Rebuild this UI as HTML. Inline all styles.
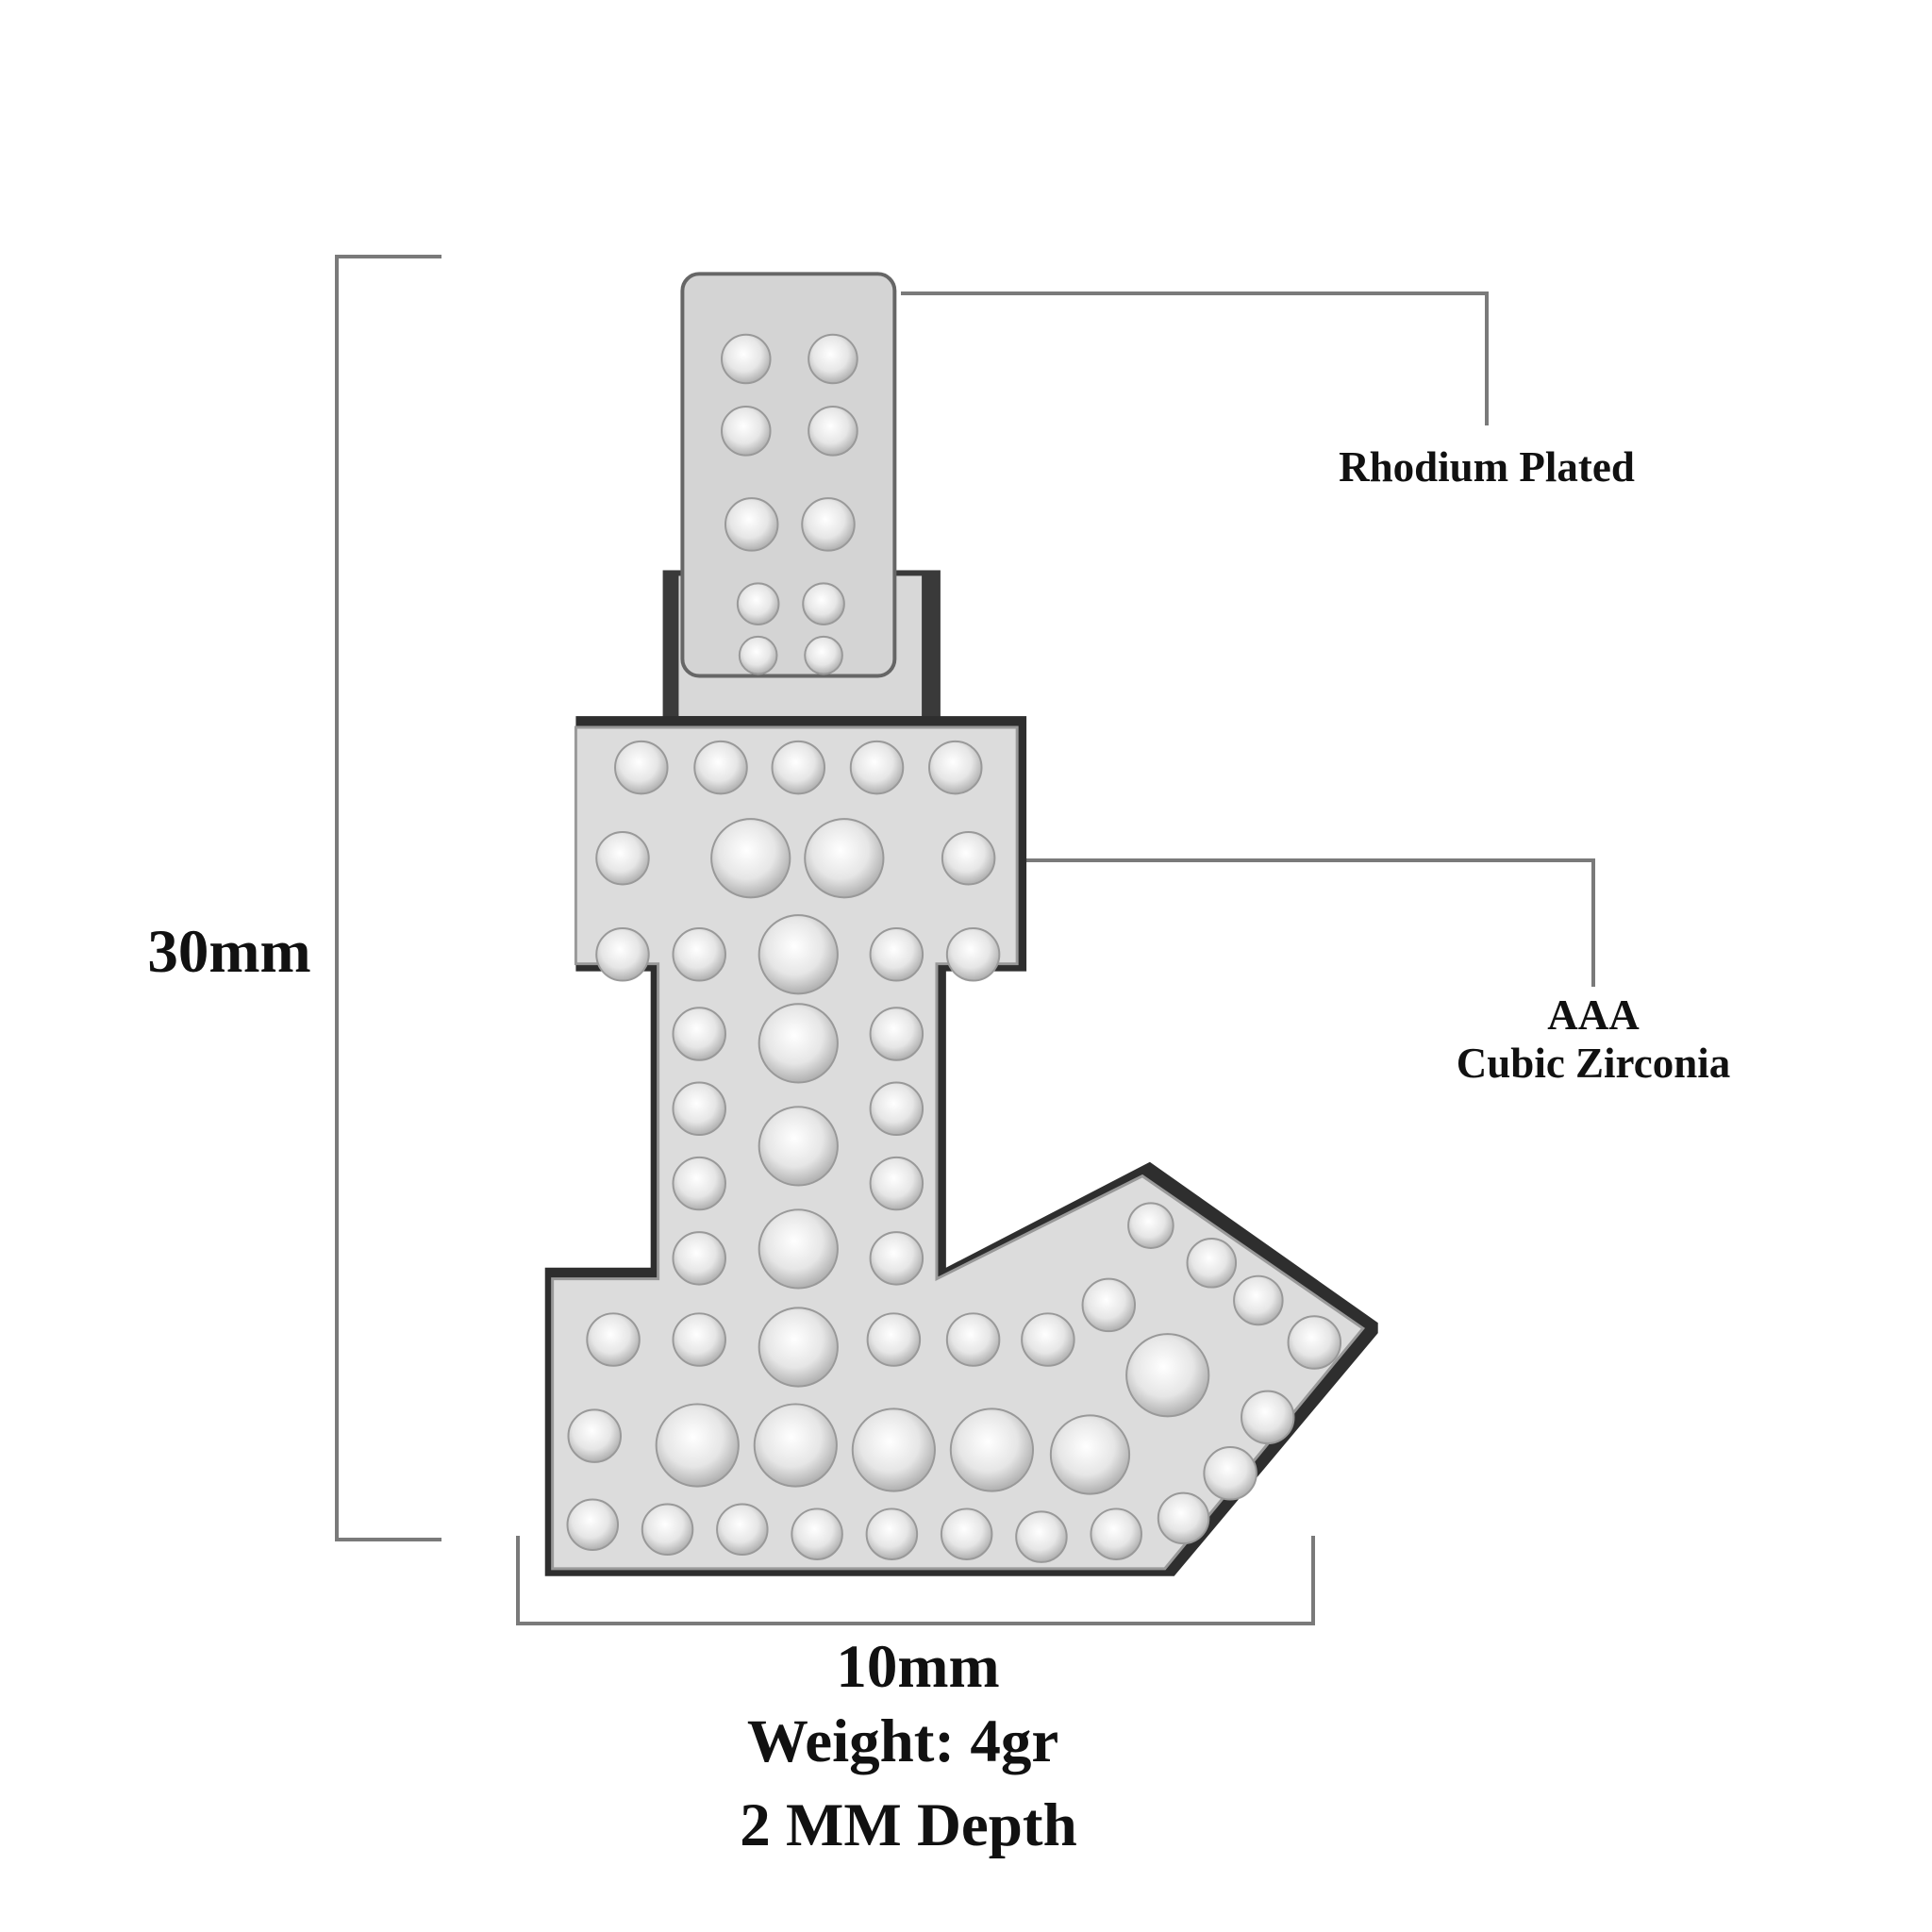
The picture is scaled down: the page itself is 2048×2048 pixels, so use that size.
<!DOCTYPE html>
<html><head><meta charset="utf-8"><style>
html,body{margin:0;padding:0;background:#fff;}
svg{display:block;}
text{font-family:"Liberation Serif",serif;font-weight:bold;fill:#111;}
</style></head><body>
<svg width="2048" height="2048" viewBox="0 0 2048 2048" xmlns="http://www.w3.org/2000/svg">
<defs>
<radialGradient id="st" cx="45%" cy="40%" r="60%">
<stop offset="0" stop-color="#ffffff"/><stop offset="0.6" stop-color="#e6e6e6"/><stop offset="1" stop-color="#b0b0b0"/>
</radialGradient>
</defs>
<g stroke="#7a7a7a" stroke-width="4" fill="none">
<polyline points="468,272 357,272 357,1632 468,1632"/>
<polyline points="549,1628 549,1721 1392,1721 1392,1628"/>
<polyline points="955,311 1576,311 1576,451"/>
<polyline points="1066,912 1689,912 1689,1046"/>
</g>
<g transform="translate(-4,-4) scale(0.991)">
<rect x="713" y="614" width="297" height="165" fill="#3a3a3a"/>
<rect x="730" y="620" width="260" height="150" fill="#d8d8d8"/>
<rect x="734" y="297" width="227" height="430" rx="18" fill="#d4d4d4" stroke="#666" stroke-width="4"/>
<polygon points="620,770 1102,770 1102,1043 1016,1043 1016,1360 1234,1247 1478,1419 1478,1430 1260,1690 587,1690 587,1360 700,1360 700,1043 620,1043" fill="#2e2e2e"/>
<polygon points="620,782 1092,782 1092,1035 1006,1035 1006,1372 1226,1262 1462,1425 1250,1682 595,1682 595,1372 708,1372 708,1035 620,1035" fill="#dcdcdc" stroke="#999" stroke-width="3"/>
<g fill="url(#st)" stroke="#999" stroke-width="2">
<circle cx="802" cy="388" r="26"/><circle cx="895" cy="388" r="26"/>
<circle cx="802" cy="465" r="26"/><circle cx="895" cy="465" r="26"/>
<circle cx="808" cy="565" r="28"/><circle cx="890" cy="565" r="28"/>
<circle cx="815" cy="650" r="22"/><circle cx="885" cy="650" r="22"/>
<circle cx="815" cy="705" r="20"/><circle cx="885" cy="705" r="20"/>
<circle cx="690" cy="825" r="28"/><circle cx="775" cy="825" r="28"/><circle cx="858" cy="825" r="28"/><circle cx="942" cy="825" r="28"/><circle cx="1026" cy="825" r="28"/>
<circle cx="670" cy="922" r="28"/><circle cx="807" cy="922" r="42"/><circle cx="907" cy="922" r="42"/><circle cx="1040" cy="922" r="28"/>
<circle cx="670" cy="1025" r="28"/><circle cx="752" cy="1025" r="28"/><circle cx="858" cy="1025" r="42"/><circle cx="963" cy="1025" r="28"/><circle cx="1045" cy="1025" r="28"/>
<circle cx="752" cy="1110" r="28"/><circle cx="858" cy="1120" r="42"/><circle cx="963" cy="1110" r="28"/>
<circle cx="752" cy="1190" r="28"/><circle cx="858" cy="1230" r="42"/><circle cx="963" cy="1190" r="28"/>
<circle cx="752" cy="1270" r="28"/><circle cx="963" cy="1270" r="28"/>
<circle cx="752" cy="1350" r="28"/><circle cx="858" cy="1340" r="42"/><circle cx="963" cy="1350" r="28"/>
<circle cx="660" cy="1437" r="28"/><circle cx="752" cy="1437" r="28"/><circle cx="858" cy="1445" r="42"/><circle cx="960" cy="1437" r="28"/><circle cx="1045" cy="1437" r="28"/><circle cx="1125" cy="1437" r="28"/><circle cx="1190" cy="1400" r="28"/><circle cx="1235" cy="1315" r="24"/><circle cx="1300" cy="1355" r="26"/><circle cx="1350" cy="1395" r="26"/><circle cx="1410" cy="1440" r="28"/>
<circle cx="640" cy="1540" r="28"/><circle cx="750" cy="1550" r="44"/><circle cx="855" cy="1550" r="44"/><circle cx="960" cy="1555" r="44"/><circle cx="1065" cy="1555" r="44"/><circle cx="1170" cy="1560" r="42"/><circle cx="1253" cy="1475" r="44"/><circle cx="1360" cy="1520" r="28"/><circle cx="1320" cy="1580" r="28"/>
<circle cx="638" cy="1635" r="27"/><circle cx="718" cy="1640" r="27"/><circle cx="798" cy="1640" r="27"/><circle cx="878" cy="1645" r="27"/><circle cx="958" cy="1645" r="27"/><circle cx="1038" cy="1645" r="27"/><circle cx="1118" cy="1648" r="27"/><circle cx="1198" cy="1645" r="27"/><circle cx="1270" cy="1628" r="27"/>
</g>
</g>
<text x="243" y="1030" font-size="65" text-anchor="middle">30mm</text>
<text x="973" y="1788" font-size="65" text-anchor="middle">10mm</text>
<text x="957" y="1867" font-size="65" text-anchor="middle">Weight: 4gr</text>
<text x="963" y="1956" font-size="65" text-anchor="middle">2 MM Depth</text>
<text x="1576" y="510" font-size="45" text-anchor="middle">Rhodium Plated</text>
<text x="1689" y="1091" font-size="45" text-anchor="middle">AAA</text>
<text x="1689" y="1142" font-size="45" text-anchor="middle">Cubic Zirconia</text>
</svg>
</body></html>
